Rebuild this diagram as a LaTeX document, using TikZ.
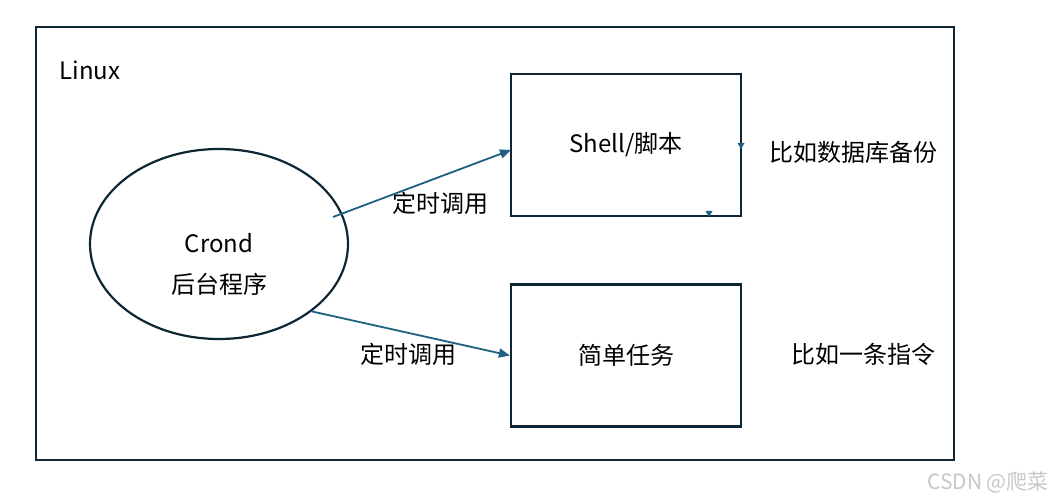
\documentclass[tikz,border=0pt]{standalone}
\usepackage{fontspec}
\setmainfont{Noto Sans CJK SC}
\usetikzlibrary{arrows.meta,shapes.geometric}
\definecolor{framec}{RGB}{14,38,52}
\definecolor{linkc}{RGB}{30,96,130}
\tikzset{
  box/.style={draw=framec, line width=1.1pt, minimum width=115pt, minimum height=71pt, inner sep=0pt},
  call/.style={-{Triangle[length=5.5pt,width=4.5pt]}, draw=linkc, line width=0.9pt},
}
\begin{document}
\begin{tikzpicture}[x=0.5pt, y=0.5pt, font=\fontsize{12pt}{14pt}\selectfont]
    \useasboundingbox (0,0) rectangle (1051,499);

    \draw[framec, line width=1.1pt] (36,39) rectangle (954,472);
    \node (linux) at (90,429) {Linux};

    \node[draw=framec, line width=1.1pt, ellipse, minimum width=129pt, minimum height=95pt, inner sep=0pt] (crond) at (219,255) {};
    \node (crondtxt) at (219,256) {Crond};
    \node (bgtxt) at (219,215) {后台程序};

    \node[box] (shell) at (626,354) {Shell/脚本};
    \node[box] (task) at (626,143.5) {简单任务};

    \node (note1) at (853,347) {比如数据库备份};
    \node (note2) at (863,145) {比如一条指令};

    \coordinate (c1) at (333,282);
    \coordinate (s1) at (511,349);
    \draw[call] (c1) -- (s1);
    \node (lab1) at (440,296) {定时调用};

    \draw[call] (crond.-36) -- (task.west);
    \node (lab2) at (408,145) {定时调用};

    % stray tips on the shell box
    \fill[linkc] (737.5,356) -- (744.5,356) -- (741,350) -- cycle;
    \fill[linkc] (705.5,288) -- (712.5,288) -- (709,282) -- cycle;

    \node[text=black!22, font=\fontsize{10.5pt}{12pt}\selectfont] (mark) at (988,17) {CSDN @爬菜};
\end{tikzpicture}
\end{document}
